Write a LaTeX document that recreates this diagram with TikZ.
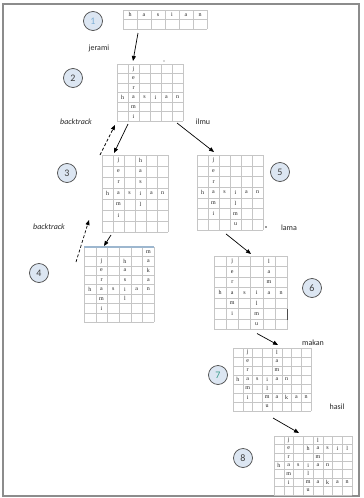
\documentclass[tikz,border=0pt]{standalone}
\usepackage{fontspec}
\setmainfont{Carlito}
\newfontfamily\gridfont{Liberation Serif}
\usetikzlibrary{calc,arrows.meta}
\definecolor{framegray}{HTML}{8C8C8C}
\definecolor{gridgray}{HTML}{C6C6C6}
\definecolor{circfill}{HTML}{DCE6F2}
\definecolor{circline}{HTML}{4A4A4A}
\definecolor{numblue}{HTML}{7FB0D6}
\definecolor{numteal}{HTML}{3B9C8C}
\definecolor{topblue}{HTML}{9DB7CF}
\tikzset{
  gridbox/.style={inner sep=0pt, outer sep=0pt},
  gridline/.style={draw=gridgray, line width=0.4pt},
  let/.style={font=\gridfont\fontsize{6}{7}\selectfont, text=black!85, inner sep=0pt},
  stepnum/.style={circle, draw=circline, fill=circfill, line width=0.7pt, minimum size=19pt, inner sep=0pt, font=\fontsize{10}{11}\selectfont, text=black!75},
  lab/.style={font=\fontsize{8}{9}\selectfont, text=black!85, inner sep=0pt},
  blab/.style={font=\itshape\fontsize{8}{9}\selectfont, text=black!85, inner sep=0pt},
  arr/.style={-{Triangle[length=5pt,width=4pt]}, line width=0.7pt, black},
  darr/.style={arr, dash pattern=on 3pt off 2pt},
}
% grid: name, x0, y0, cols, rows, cell width, cell height
\newcommand\mkgrid[7]{%
  \gdef\gx{#2}\gdef\gy{#3}\gdef\gw{#6}\gdef\gh{#7}\gdef\gname{#1}%
  \node[gridbox, anchor=north west, minimum width=#4*#6pt, minimum height=#5*#7pt] (#1) at (#2,#3) {};
  \foreach \ii in {0,...,#4} \draw[gridline] ({#2+\ii*#6},#3) -- ++(0,{#5*#7});
  \foreach \jj in {0,...,#5} \draw[gridline] (#2,{#3+\jj*#7}) -- ++({#4*#6},0);
}
\newcommand\gl[1]{%
  \foreach \ci/\ri/\li in {#1}
    \node[let] (\gname-\ci-\ri) at ({\gx+(\ci-0.5)*\gw},{\gy+(\ri-0.5)*\gh}) {\li};
}
\begin{document}
\begin{tikzpicture}[x=1pt,y=-1pt]
\useasboundingbox (0,0) rectangle (364,498);
\draw[framegray, line width=1.2pt] (3,4) rectangle (359,496);

% ---- step 1
\node[stepnum, text=numblue] (c1) at (93,21) {1};
\mkgrid{g1}{123}{10}{6}{2}{14}{9.5}
\gl{1/1/h,2/1/a,3/1/s,4/1/i,5/1/a,6/1/n}
\node[lab] (ljerami) at (99,48) {jerami};

% ---- step 2
\node[stepnum] (c2) at (73,78) {2};
\mkgrid{g2}{117}{64}{6}{6}{11}{9.5}
\gl{2/1/j,2/2/e,2/3/r,1/4/h,2/4/a,3/4/s,4/4/i,5/4/a,6/4/n,2/5/m,2/6/i}
\fill[black!70] (164,61) circle (0.6);
\node[blab] (lback1) at (76,122) {backtrack};
\node[lab] (lilmu) at (203,122) {ilmu};

% ---- step 3
\node[stepnum] (c3) at (67,173) {3};
\mkgrid{g3}{102}{155}{6}{7}{11}{11}
\gl{2/1/j,4/1/h,2/2/e,4/2/a,2/3/r,4/3/s,1/4/h,2/4/a,3/4/s,4/4/i,5/4/a,6/4/n,2/5/m,4/5/l,2/6/i}

% ---- step 5
\node[stepnum] (c5) at (280,172) {5};
\mkgrid{g5}{197}{155}{6}{7}{11}{10.7}
\gl{2/1/j,2/2/e,2/3/r,1/4/h,2/4/a,3/4/s,4/4/i,5/4/a,6/4/n,2/5/m,4/5/l,2/6/i,4/6/m,4/7/u}
\fill[black!80] (266,227) circle (0.8);
\node[lab] (llama) at (289,228) {lama};

% ---- step 4
\node[blab] (lback2) at (49,227) {backtrack};
\node[stepnum] (c4) at (39,273) {4};
\mkgrid{g4}{84}{247}{6}{8}{11.7}{9.4}
\gl{6/1/m,2/2/j,4/2/h,6/2/a,2/3/e,4/3/a,6/3/k,2/4/r,4/4/s,6/4/a,1/5/h,2/5/a,3/5/s,4/5/i,5/5/a,6/5/n,2/6/m,4/6/l,2/7/i}
\draw[topblue, line width=1.3pt] (g4.north west) -- (g4.north east);

% ---- step 6
\node[stepnum] (c6) at (312,288) {6};
\mkgrid{g6}{214}{256}{6}{7}{12.2}{10.5}
\gl{2/1/j,5/1/l,2/2/e,5/2/a,2/3/r,5/3/m,1/4/h,2/4/a,3/4/s,4/4/i,5/4/a,6/4/n,2/5/m,4/5/l,2/6/i,4/6/m,4/7/u}
\draw[black!70, line width=1pt] ($(g6.north east)+(0,53)$) -- ++(0,11);
\node[lab] (lmakan) at (313,343) {makan};

% ---- step 7
\node[stepnum, text=numteal] (c7) at (218,375) {7};
\mkgrid{g7}{233}{348}{8}{7}{9.75}{9}
\gl{2/1/j,5/1/l,2/2/e,5/2/a,2/3/r,5/3/m,1/4/h,2/4/a,3/4/s,4/4/i,5/4/a,6/4/n,2/5/m,4/5/l,2/6/i,4/6/m,5/6/a,6/6/k,7/6/a,8/6/n,4/7/u}
\node[lab] (lhasil) at (337,407) {hasil};

% ---- step 8
\node[stepnum] (c8) at (243,458) {8};
\mkgrid{g8}{274}{436}{8}{7}{9.75}{8.4}
\gl{2/1/j,5/1/l,2/2/e,4/2/h,5/2/a,6/2/s,7/2/i,8/2/l,2/3/r,5/3/m,1/4/h,2/4/a,3/4/s,4/4/i,5/4/a,6/4/n,2/5/m,4/5/l,2/6/i,4/6/m,5/6/a,6/6/k,7/6/a,8/6/n,4/7/u}

% ---- connectors
\draw[arr] ($(g1.south west)+(15,4)$) -- ($(g2.north west)+(16,-3)$);
\draw[arr] ($(g2.south west)+(11,3)$) -- ($(g3.north west)+(12,-2)$);
\draw[arr] ($(g2.south east)+(-6,2)$) -- ($(g5.north west)+(17,-3)$);
\draw[darr] ($(g3.north west)+(-2,0)$) -- ($(g2.south west)+(-2,4)$);
\draw[arr] ($(g3.south west)+(9,3)$) -- ($(g4.north west)+(20,-1)$);
\draw[darr] ($(g4.north west)+(-8,15)$) -- ($(g3.south west)+(-13,-12)$);
\draw[arr] ($(g5.south west)+(29,4)$) -- ($(g6.north west)+(37,-2)$);
\draw[arr] ($(g6.south west)+(43,4)$) -- ($(g7.north west)+(45,-3)$);
\draw[arr] ($(g7.south west)+(40,7)$) -- ($(g8.north west)+(25,-3)$);
\end{tikzpicture}
\end{document}
